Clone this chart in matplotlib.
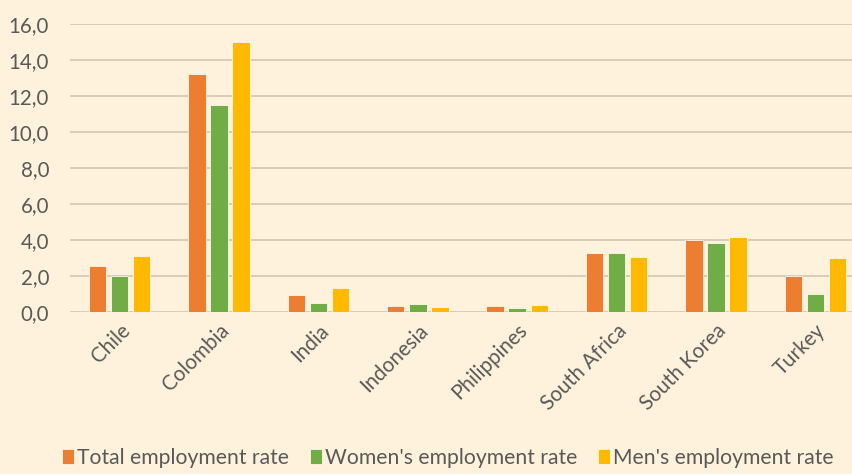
import numpy as np
import matplotlib
matplotlib.use("Agg")
import matplotlib.pyplot as plt
from matplotlib.ticker import FuncFormatter

countries = ["Chile", "Colombia", "India", "Indonesia", "Philippines",
             "South Africa", "South Korea", "Turkey"]
total_rate = [2.55, 13.2, 0.95, 0.35, 0.32, 3.3, 4.0, 2.0]
women_rate = [2.0, 11.5, 0.52, 0.45, 0.24, 3.28, 3.85, 1.02]
men_rate = [3.13, 15.0, 1.35, 0.3, 0.41, 3.08, 4.15, 3.02]

series_names = ["Total employment rate", "Women's employment rate", "Men's employment rate"]
colors = ["#ED7D31", "#70AD47", "#FFB900"]
bg = "#FEF2DC"
text_col = "#595959"

plt.rcParams["font.family"] = ["Lato", "DejaVu Sans"]

fig = plt.figure(figsize=(8.53, 4.74), dpi=100, facecolor=bg)
ax = fig.add_axes([70 / 853, 1 - 312 / 474, 795 / 853, 288 / 474])
ax.set_facecolor(bg)

x = np.arange(len(countries))
width = 0.175
pitch = 0.222
for k, (vals, name, c) in enumerate(zip([total_rate, women_rate, men_rate], series_names, colors)):
    ax.bar(x + (k - 1) * pitch, vals, width, color=c, label=name,
           edgecolor="#FFF6E8", linewidth=0.6, zorder=3)

ax.set_xlim(-0.5, len(countries) - 0.5)
ax.set_ylim(0, 16)
ax.set_yticks(np.arange(0, 17, 2))
ax.yaxis.set_major_formatter(FuncFormatter(lambda v, p: f"{v:.1f}".replace(".", ",")))
ax.grid(axis="y", color="#D6CCBB", linewidth=1.4, zorder=0)
for s in ax.spines.values():
    s.set_visible(False)
ax.tick_params(axis="both", length=0, colors=text_col, labelsize=14.8)
ax.tick_params(axis="y", pad=15)
ax.set_xticks(x)
ax.set_xticklabels(countries, rotation=45, ha="right", rotation_mode="anchor")
ax.tick_params(axis="x", pad=6)

leg = fig.legend(loc="lower center", bbox_to_anchor=(0.525, -0.028), ncol=3,
                 frameon=False, fontsize=15.2, handlelength=0.55, handleheight=0.7,
                 handletextpad=0.15, columnspacing=1.0, labelcolor=text_col)

fig.savefig("out.png", dpi=100, facecolor=bg)
